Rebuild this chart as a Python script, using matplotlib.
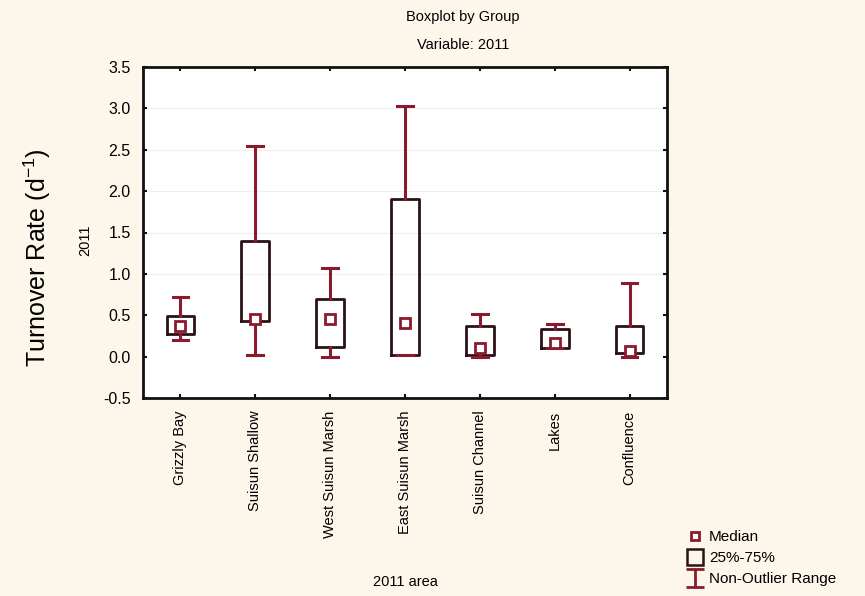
import matplotlib
matplotlib.use("Agg")
import matplotlib.pyplot as plt
from matplotlib.lines import Line2D
from matplotlib.path import Path
from matplotlib import font_manager

categories = ["Grizzly Bay", "Suisun Shallow", "West Suisun Marsh", "East Suisun Marsh",
              "Suisun Channel", "Lakes", "Confluence"]
medians = [0.37, 0.46, 0.45, 0.41, 0.10, 0.165, 0.07]
q1 = [0.27, 0.43, 0.12, 0.02, 0.02, 0.11, 0.04]
q3 = [0.49, 1.40, 0.70, 1.90, 0.37, 0.33, 0.37]
whisker_low = [0.20, 0.02, 0.00, 0.02, 0.00, 0.10, 0.00]
whisker_high = [0.72, 2.54, 1.07, 3.03, 0.51, 0.39, 0.89]
yticks = [-0.5, 0.0, 0.5, 1.0, 1.5, 2.0, 2.5, 3.0, 3.5]

avail = {f.name for f in font_manager.fontManager.ttflist}
fam = [f for f in ["Liberation Sans", "Arial", "DejaVu Sans"] if f in avail] or ["DejaVu Sans"]
plt.rcParams["font.family"] = fam

BG = "#fcf7ea"
BOXC = "#2a1216"
WHC = "#8a1a2c"
MEDC = "#8a1a2c"

fig = plt.figure(figsize=(8.65, 5.96), dpi=100, facecolor=BG)
ax = fig.add_axes([143 / 865, 1 - 398 / 596, 524 / 865, 331 / 596])
ax.set_facecolor("white")

stats = []
for i, c in enumerate(categories):
    stats.append(dict(label=c, med=medians[i], q1=q1[i], q3=q3[i],
                      whislo=whisker_low[i], whishi=whisker_high[i], fliers=[]))

pos = list(range(len(categories)))
ax.bxp(stats, positions=pos, widths=0.37, capwidths=0.21, showfliers=False,
       boxprops=dict(color=BOXC, linewidth=2.0),
       whiskerprops=dict(color=WHC, linewidth=2.2),
       capprops=dict(color=WHC, linewidth=2.2),
       medianprops=dict(linewidth=0),
       manage_ticks=False)
ax.plot(pos, medians, linestyle="none", marker="s", markersize=6.5,
        markerfacecolor="white", markeredgecolor=MEDC, markeredgewidth=2, zorder=5)

for y in [1.0, 1.5, 2.0, 2.5, 3.0]:
    ax.axhline(y, color="#efefef", linewidth=0.8, zorder=0)

ax.set_xlim(-0.5, len(categories) - 0.5)
ax.set_ylim(-0.5, 3.5)
ax.set_yticks(yticks)
ax.set_yticklabels([f"{v:.1f}" for v in yticks], fontsize=11.5)
ax.set_xticks(pos)
ax.set_xticklabels(categories, rotation=90, fontsize=10.5)
ax.tick_params(direction="in", length=3, width=1.5, top=True, right=True, color="#111111")
ax.tick_params(axis="y", pad=9)
ax.tick_params(axis="x", pad=9)
for s in ax.spines.values():
    s.set_linewidth(2)
    s.set_color("#111111")

fig.text(463 / 865, 1 - 17 / 596, "Boxplot by Group", ha="center", va="center", fontsize=10.5)
fig.text(463 / 865, 1 - 45 / 596, "Variable: 2011", ha="center", va="center", fontsize=10.5)
fig.text(405 / 865, 1 - 582 / 596, "2011 area", ha="center", va="center", fontsize=10.5)
fig.text(85 / 865, 1 - 240 / 596, "2011", ha="center", va="center", rotation=90, fontsize=10.5)
fig.text(37 / 865, 1 - 258 / 596, "Turnover Rate (d$^{\\mathregular{-1}}$)", ha="center",
         va="center", rotation=90, fontsize=18)

ipath = Path([(-1, 1), (1, 1), (0, 1), (0, -1), (-1, -1), (1, -1)],
             [Path.MOVETO, Path.LINETO, Path.MOVETO, Path.LINETO, Path.MOVETO, Path.LINETO])
handles = [
    Line2D([], [], linestyle="none", marker="s", markersize=5.5, markerfacecolor="white",
           markeredgecolor=MEDC, markeredgewidth=2),
    Line2D([], [], linestyle="none", marker="s", markersize=11, markerfacecolor="none",
           markeredgecolor=BOXC, markeredgewidth=1.8),
    Line2D([], [], linestyle="none", marker=ipath, markersize=13, markerfacecolor="none",
           markeredgecolor=WHC, markeredgewidth=2),
]
fig.legend(handles, ["Median", "25%-75%", "Non-Outlier Range"], loc="lower left",
           bbox_to_anchor=(676 / 865, 0.0), frameon=False, fontsize=11,
           handletextpad=0.3, labelspacing=0.45, handlelength=1.2, borderaxespad=0.25)

fig.savefig("out.png", dpi=100, facecolor=BG)
